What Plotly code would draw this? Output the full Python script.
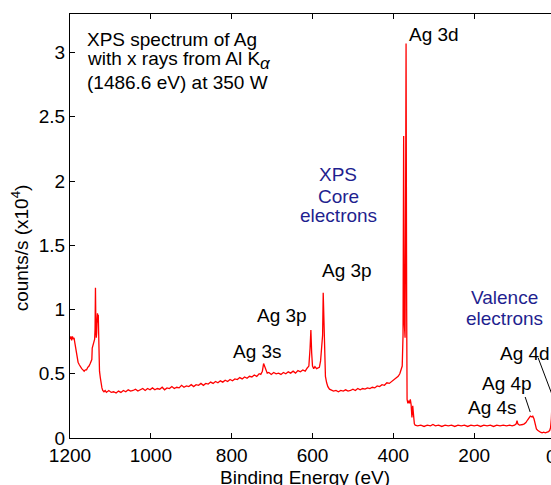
import plotly.graph_objects as go

# Binding energy (eV) and intensity (counts/s, x10^4)
energy = [
    1200, 1198, 1196, 1194, 1192, 1190, 1188, 1186, 1184, 1182, 1180, 1177, 1174, 1171, 1168, 1165,
    1162, 1159, 1156, 1153, 1150, 1148, 1146, 1145, 1143, 1141, 1139, 1138, 1137, 1136, 1135, 1134,
    1133, 1132, 1131, 1130, 1129, 1128, 1127, 1125, 1123, 1121, 1119, 1116, 1113,
    1110, 1104, 1098, 1092, 1086, 1080, 1074, 1068, 1062, 1056, 1050, 1044, 1038, 1032, 1026, 1020,
    1014, 1008, 1002, 996, 990, 984, 978, 972, 966, 960, 954, 948, 942, 936, 930, 924, 918, 912, 906,
    900, 894, 888, 882, 876, 870, 864, 858, 852, 846, 840, 834, 828, 822, 816, 810, 804, 798, 792,
    786, 780, 774, 768, 762, 756, 750, 744, 738, 732, 728, 724, 721, 718, 715, 712, 708, 702, 696,
    690, 684, 678, 672, 666, 660, 654, 648, 642, 636, 630, 624, 618, 613, 609, 606, 604, 602, 600,
    597, 594, 590, 586, 583, 580, 577, 575, 573.5, 572, 570, 568, 565, 562, 558, 553, 548,
    542, 536, 530, 524, 518, 512, 506, 500, 494, 488, 482, 476, 470, 464, 458, 452, 446, 440, 434,
    428, 422, 416, 410, 404, 398, 392, 388, 384, 381, 378, 376, 374.5, 373, 371, 370, 368.5, 367,
    366, 364, 362, 360, 358, 356, 354, 352, 350, 348, 346,
    340, 332, 324, 316, 308, 302, 296, 288, 280, 272, 264, 256, 248, 240, 232, 224, 216, 208, 200,
    192, 184, 176, 168, 160, 152, 144, 136, 128, 120, 112, 106, 100, 96, 94, 92, 88, 84, 80, 76, 72,
    68, 64, 61, 58, 55, 52, 49, 46, 43, 40, 36, 32, 28, 24, 20, 16, 13, 11, 9, 7, 5, 3, 1, 0,
]
counts = [
    0.77, 0.79, 0.76, 0.79, 0.77, 0.78, 0.74, 0.70, 0.66, 0.62, 0.59, 0.57, 0.55, 0.54, 0.53, 0.52,
    0.53, 0.53, 0.55, 0.56, 0.58, 0.59, 0.61, 0.70, 0.73, 0.74, 0.77, 0.85, 1.17, 0.88, 0.78, 0.82,
    0.92, 0.97, 0.90, 0.96, 0.80, 0.62, 0.52, 0.47, 0.42, 0.39, 0.37, 0.36, 0.37,
    0.355, 0.37, 0.355, 0.36, 0.35, 0.365, 0.355, 0.37, 0.36, 0.375, 0.365, 0.37, 0.38, 0.365, 0.375, 0.385,
    0.37, 0.385, 0.375, 0.39, 0.375, 0.385, 0.38, 0.395, 0.375, 0.39, 0.385, 0.40, 0.385, 0.395, 0.39, 0.41, 0.395, 0.405, 0.40,
    0.415, 0.40, 0.415, 0.41, 0.425, 0.41, 0.425, 0.42, 0.435, 0.425, 0.44, 0.43, 0.445, 0.435, 0.45, 0.44, 0.455, 0.445, 0.46,
    0.455, 0.47, 0.46, 0.475, 0.465, 0.48, 0.475, 0.49, 0.48, 0.50, 0.495, 0.52, 0.58, 0.555, 0.52, 0.505, 0.51, 0.495, 0.51,
    0.50, 0.505, 0.495, 0.51, 0.50, 0.515, 0.505, 0.52, 0.505, 0.525, 0.515, 0.53, 0.52, 0.545, 0.56, 0.70, 0.84, 0.66, 0.56,
    0.54, 0.555, 0.54, 0.545, 0.55, 0.60, 0.70, 0.80, 1.13, 0.90, 0.60, 0.48, 0.43, 0.40, 0.38, 0.37, 0.365,
    0.37, 0.36, 0.37, 0.365, 0.375, 0.365, 0.37, 0.38, 0.37, 0.385, 0.375, 0.385, 0.38, 0.39, 0.385, 0.395, 0.39, 0.405, 0.40,
    0.415, 0.41, 0.43, 0.425, 0.44, 0.45, 0.465, 0.48, 0.50, 0.53, 0.56, 0.80, 2.35, 0.90, 0.78, 1.50, 3.07, 1.00,
    0.30, 0.27, 0.29, 0.27, 0.30, 0.26, 0.16, 0.25, 0.14, 0.11, 0.10,
    0.095, 0.10, 0.09, 0.10, 0.095, 0.105, 0.095, 0.10, 0.09, 0.10, 0.095, 0.10, 0.09, 0.10, 0.095, 0.10, 0.09, 0.10, 0.095,
    0.10, 0.09, 0.10, 0.095, 0.10, 0.09, 0.10, 0.095, 0.10, 0.095, 0.10, 0.095, 0.10, 0.11, 0.135, 0.11, 0.10, 0.10, 0.105, 0.11, 0.12,
    0.14, 0.155, 0.17, 0.165, 0.17, 0.15, 0.11, 0.07, 0.06, 0.05, 0.045, 0.04, 0.045, 0.04, 0.045, 0.05, 0.06, 0.08, 0.15, 0.35, 0.45, 0.40, 0.30, 0.25,
]

x_ticks = [1200, 1000, 800, 600, 400, 200]
y_ticks = [0, 0.5, 1, 1.5, 2, 2.5, 3]

FONT = "Liberation Sans, Arial, Helvetica, sans-serif"
FS = 19
BLUE = "#1f1f8f"

fig = go.Figure()
fig.add_trace(go.Scatter(x=energy, y=counts, mode="lines",
                         line=dict(color="#ff0000", width=1.3), hoverinfo="skip"))

def label(text, x, y, color="black", xanchor="left", xref="x", yref="y", yanchor="middle", angle=0):
    fig.add_annotation(text=text, x=x, y=y, xref=xref, yref=yref, showarrow=False,
                       xanchor=xanchor, yanchor=yanchor, textangle=angle,
                       font=dict(family=FONT, size=FS, color=color))

# description text (top left)
label("XPS spectrum of Ag", 1162, 3.105)
label("with x rays from Al K<sub><span style='font-size:17px;font-style:italic'>α</span></sub>", 1162, 2.94)
label("(1486.6 eV) at 350 W", 1162, 2.77)

# peak labels
label("Ag 3d", 366, 3.14)
label("Ag 3p", 581, 1.30)
label("Ag 3p", 742, 0.95)
label("Ag 3s", 801, 0.67)
label("Ag 4d", 141, 0.655)
label("Ag 4p", 185, 0.428)
label("Ag 4s", 220, 0.24)

# blue group labels
label("XPS", 536.6, 2.047, BLUE, "center")
label("Core", 536.6, 1.883, BLUE, "center")
label("electrons", 536.6, 1.728, BLUE, "center")
label("Valence", 125.7, 1.097, BLUE, "center")
label("electrons", 125.7, 0.934, BLUE, "center")

# leader lines
fig.add_shape(type="line", x0=73.8, y0=0.319, x1=61.4, y1=0.202, line=dict(color="black", width=1))
fig.add_shape(type="line", x0=41.6, y0=0.623, x1=7, y1=0.335, line=dict(color="black", width=1))

# axis titles
label("counts/s (x10<sup>4</sup>)", -0.105, 1.48, xanchor="center", xref="paper", angle=-90)
label("Binding Energy (eV)", 0.489, -0.063, xanchor="center", xref="paper", yref="paper", yanchor="top")
# partially visible tick label at the right edge
label("0", 1.0, -0.0425, xanchor="center", xref="paper", yref="paper")

axis_common = dict(showgrid=False, zeroline=False, showline=True, linecolor="black", linewidth=1.2,
                   ticks="inside", ticklen=5, tickcolor="black", tickwidth=1,
                   tickfont=dict(family=FONT, size=FS, color="black"))

fig.update_xaxes(range=[1200, 9.9], tickvals=x_ticks, ticktext=[str(v) for v in x_ticks],
                 mirror="ticks", **axis_common)
fig.update_yaxes(range=[0, 3.3], tickvals=y_ticks, mirror=False, **axis_common)

fig.update_layout(width=551, height=485, margin=dict(l=70, r=0, t=14, b=47),
                  plot_bgcolor="white", paper_bgcolor="white", showlegend=False,
                  font=dict(family=FONT, size=FS, color="black"))

# remove the page's default body margin and scrollbars so the figure fills the window
fig.write_html("out.html",
               config={"displayModeBar": False},
               post_script="document.body.style.margin='0';"
                           "document.documentElement.style.overflow='hidden';"
                           "document.body.style.overflow='hidden';")
